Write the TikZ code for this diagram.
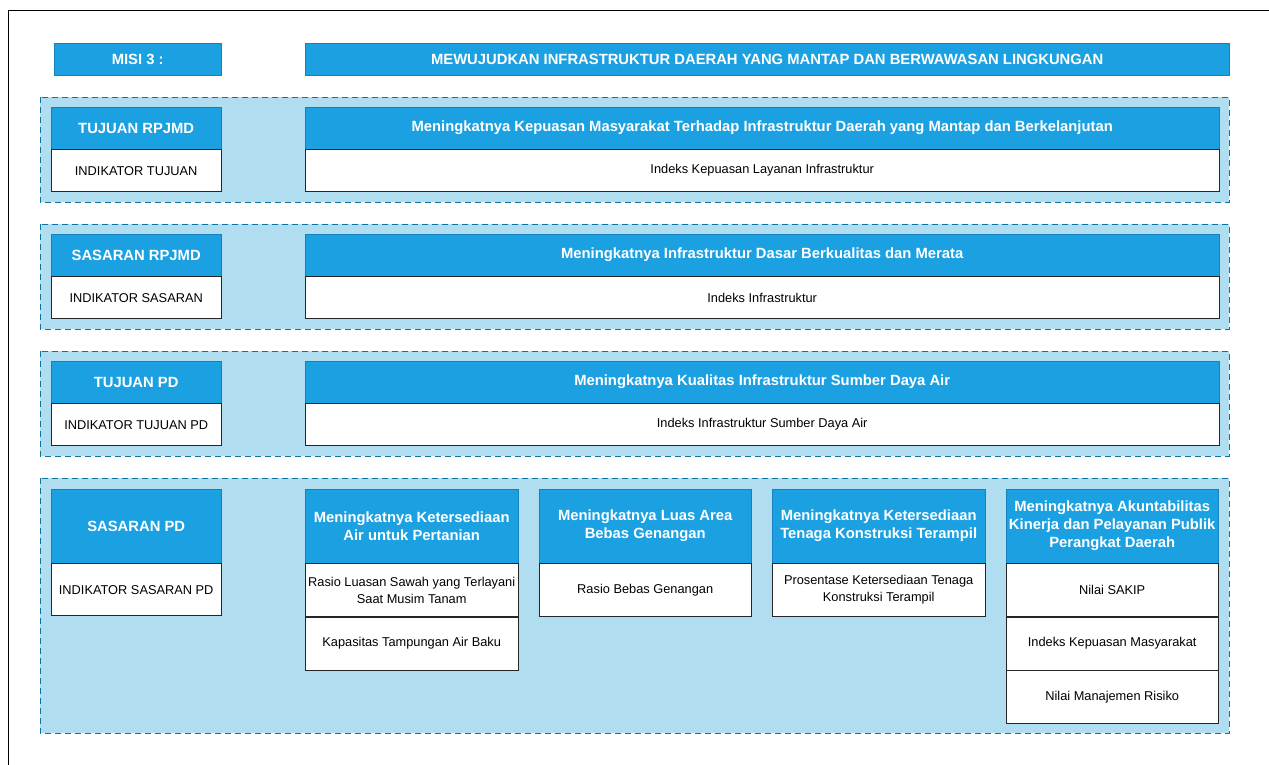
\documentclass[tikz,border=0pt]{standalone}
\usepackage{fontspec}
\setmainfont{Liberation Sans}
\usetikzlibrary{positioning}
\definecolor{hdrfill}{HTML}{1BA1E2}
\definecolor{hdrline}{HTML}{1580C0}
\definecolor{bandfill}{HTML}{B1DDF0}
\definecolor{bandline}{HTML}{10739E}

\begin{document}
\begin{tikzpicture}[x=1pt,y=-1pt,
  hdr/.style={draw=hdrline, fill=hdrfill, text=white, inner sep=0pt, align=center,
    anchor=north west, font=\bfseries\fontsize{14.8}{18}\selectfont},
  cell/.style={draw=black!85, fill=white, inner sep=0pt, align=center,
    font=\fontsize{12.8}{17}\selectfont},
  band/.style={draw=bandline, fill=bandfill, dash pattern=on 6pt off 4pt}]
\useasboundingbox (0,0) rectangle (1269,765);
\draw[line width=1pt] (8,765) -- (8,11) -- (1269,11);

% Misi
\node[hdr, minimum width=167pt, minimum height=32pt] (misi)  at (54,43)  {MISI 3 :};
\node[hdr, minimum width=924pt, minimum height=32pt] (misit) at (305,43) {MEWUJUDKAN INFRASTRUKTUR DAERAH YANG MANTAP DAN BERWAWASAN LINGKUNGAN};

% Bands
\draw[band] (40,97)  rectangle (1229,202);
\draw[band] (40,224) rectangle (1229,329);
\draw[band] (40,351) rectangle (1229,456);
\draw[band] (40,478) rectangle (1229,733);

% Tujuan RPJMD
\node[hdr, minimum width=170pt, minimum height=42pt] (tr)  at (51,107)  {TUJUAN RPJMD};
\node[cell, minimum width=170pt, minimum height=42pt, below=0pt of tr] (itr) {INDIKATOR TUJUAN};
\node[hdr, minimum width=914pt, minimum height=42pt] (trt) at (305,107) {Meningkatnya Kepuasan Masyarakat Terhadap Infrastruktur Daerah yang Mantap dan Berkelanjutan};
\node[cell, minimum width=914pt, minimum height=42pt, below=0pt of trt] (itrt) {Indeks Kepuasan Layanan Infrastruktur};

% Sasaran RPJMD
\node[hdr, minimum width=170pt, minimum height=42pt] (sr)  at (51,234)  {SASARAN RPJMD};
\node[cell, minimum width=170pt, minimum height=42pt, below=0pt of sr] (isr) {INDIKATOR SASARAN};
\node[hdr, minimum width=914pt, minimum height=42pt] (srt) at (305,234) {Meningkatnya Infrastruktur Dasar Berkualitas dan Merata};
\node[cell, minimum width=914pt, minimum height=42pt, below=0pt of srt] (isrt) {Indeks Infrastruktur};

% Tujuan PD
\node[hdr, minimum width=170pt, minimum height=42pt] (tp)  at (51,361)  {TUJUAN PD};
\node[cell, minimum width=170pt, minimum height=42pt, below=0pt of tp] (itp) {INDIKATOR TUJUAN PD};
\node[hdr, minimum width=914pt, minimum height=42pt] (tpt) at (305,361) {Meningkatnya Kualitas Infrastruktur Sumber Daya Air};
\node[cell, minimum width=914pt, minimum height=42pt, below=0pt of tpt] (itpt) {Indeks Infrastruktur Sumber Daya Air};

% Sasaran PD
\node[hdr, minimum width=170pt, minimum height=74pt] (sp)  at (51,489)  {SASARAN PD};
\node[cell, minimum width=170pt, minimum height=52pt, below=0pt of sp] (isp) {INDIKATOR SASARAN PD};

\node[hdr, minimum width=213pt, minimum height=74pt] (spa) at (305,489)  {Meningkatnya Ketersediaan\\Air untuk Pertanian};
\node[cell, minimum width=213pt, minimum height=53pt, below=0pt of spa] (spa1) {Rasio Luasan Sawah yang Terlayani\\Saat Musim Tanam};
\node[cell, minimum width=213pt, minimum height=53pt, below=0pt of spa1] (spa2) {Kapasitas Tampungan Air Baku};

\node[hdr, minimum width=212pt, minimum height=74pt] (spb) at (539,489)  {Meningkatnya Luas Area\\Bebas Genangan};
\node[cell, minimum width=212pt, minimum height=53pt, below=0pt of spb] (spb1) {Rasio Bebas Genangan};

\node[hdr, minimum width=213pt, minimum height=74pt] (spc) at (772,489)  {Meningkatnya Ketersediaan\\Tenaga Konstruksi Terampil};
\node[cell, minimum width=213pt, minimum height=53pt, below=0pt of spc] (spc1) {Prosentase Ketersediaan Tenaga\\Konstruksi Terampil};

\node[hdr, minimum width=212pt, minimum height=74pt] (spd) at (1006,489) {Meningkatnya Akuntabilitas\\Kinerja dan Pelayanan Publik\\Perangkat Daerah};
\node[cell, minimum width=212pt, minimum height=53pt, below=0pt of spd]  (spd1) {Nilai SAKIP};
\node[cell, minimum width=212pt, minimum height=53pt, below=0pt of spd1] (spd2) {Indeks Kepuasan Masyarakat};
\node[cell, minimum width=212pt, minimum height=53pt, below=0pt of spd2] (spd3) {Nilai Manajemen Risiko};
\end{tikzpicture}
\end{document}
